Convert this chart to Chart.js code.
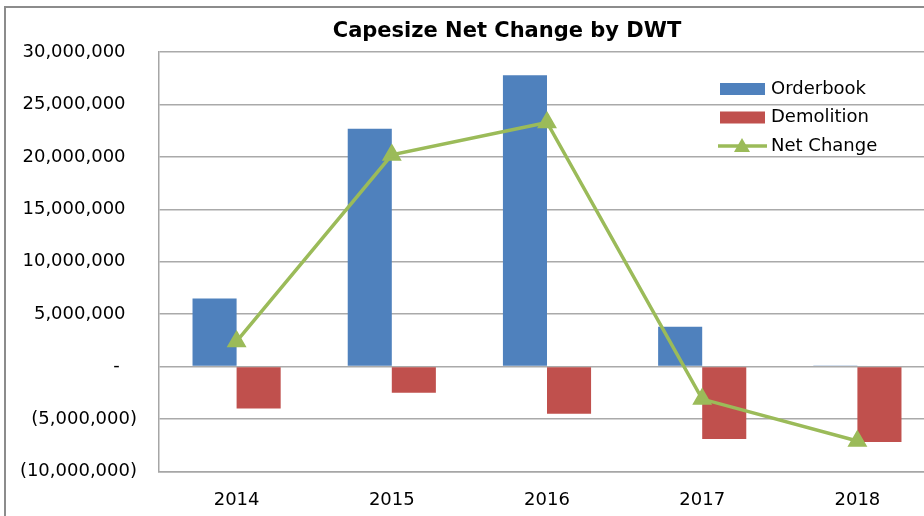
<!DOCTYPE html>
<html>
<head>
<meta charset="utf-8">
<script src="https://cdn.jsdelivr.net/npm/chart.js@4.4.1/dist/chart.umd.min.js"></script>
<style>
    html, body { margin: 0; padding: 0; background: #fff; overflow: hidden; }
    #wrap { position: absolute; left: 0; top: 0; width: 1014px; height: 534px; }
    #frame { position: absolute; left: 4px; top: 6px; width: 2000px; height: 2000px;
             border-left: 2px solid #8c8c8c; border-top: 2px solid #8c8c8c; pointer-events: none; }
</style>
</head>
<body>
<div id="wrap"><canvas id="chart" width="1014" height="534"></canvas></div>
<div id="frame"></div>
<script>
// Data for the chart
const years = ["2014", "2015", "2016", "2017", "2018"];
const orderbook = [6500000, 22700000, 27800000, 3800000, 100000];
const demolition = [-4000000, -2500000, -4500000, -6900000, -7200000];
const netChange = [2400000, 20200000, 23300000, -3100000, -7100000];

const FONT = "'DejaVu Sans', sans-serif";

// Excel accounting style labels
function accounting(v) {
    if (v === 0) return "-   ";
    const s = Math.abs(v).toLocaleString("en-US");
    return v < 0 ? "(" + s + ")" : s + "  ";
}

// Legend drawn inside the plot area, like the Excel original
const insideLegend = {
    id: "insideLegend",
    afterDraw(chart) {
        const ctx = chart.ctx;
        const x = 720, y0 = 89, step = 28.5;
        ctx.save();
        ctx.font = "18px " + FONT;
        ctx.textBaseline = "middle";
        ctx.textAlign = "left";
        chart.data.datasets.forEach((ds, i) => {
            const y = y0 + i * step;
            if (ds.type === "line") {
                ctx.strokeStyle = ds.borderColor;
                ctx.lineWidth = 3.5;
                ctx.beginPath();
                ctx.moveTo(x - 2, y);
                ctx.lineTo(x + 47, y);
                ctx.stroke();
                ctx.fillStyle = ds.borderColor;
                ctx.beginPath();
                ctx.moveTo(x + 22, y - 8);
                ctx.lineTo(x + 30, y + 6);
                ctx.lineTo(x + 14, y + 6);
                ctx.closePath();
                ctx.fill();
            } else {
                ctx.fillStyle = ds.backgroundColor;
                ctx.fillRect(x, y - 6, 45, 12);
            }
            ctx.fillStyle = "#000";
            ctx.fillText(ds.label, x + 51, y);
        });
        ctx.restore();
    }
};

const ctx = document.getElementById("chart").getContext("2d");
new Chart(ctx, {
    data: {
        labels: years,
        datasets: [
            {
                type: "bar",
                label: "Orderbook",
                data: orderbook,
                backgroundColor: "#4F81BD",
                categoryPercentage: 0.568,
                barPercentage: 1,
                order: 1
            },
            {
                type: "bar",
                label: "Demolition",
                data: demolition,
                backgroundColor: "#C0504D",
                categoryPercentage: 0.568,
                barPercentage: 1,
                order: 1
            },
            {
                type: "line",
                label: "Net Change",
                data: netChange,
                borderColor: "#9BBB59",
                backgroundColor: "#9BBB59",
                borderWidth: 3.5,
                pointStyle: "triangle",
                pointRadius: 8,
                pointBackgroundColor: "#9BBB59",
                pointBorderColor: "#9BBB59",
                tension: 0,
                order: 0
            }
        ]
    },
    options: {
        responsive: false,
        animation: false,
        layout: {
            padding: { left: 0, right: 0, top: 0, bottom: 5 }
        },
        plugins: {
            legend: { display: false },
            tooltip: { enabled: false },
            title: {
                display: true,
                text: "Capesize Net Change by DWT",
                color: "#000",
                font: { family: FONT, size: 21, weight: "bold" },
                padding: { top: 19, bottom: 8 }
            }
        },
        scales: {
            x: {
                grid: { display: false, drawTicks: false },
                border: { color: "#a6a6a6", width: 1.5 },
                ticks: {
                    color: "#000",
                    font: { family: FONT, size: 18 },
                    padding: 18
                }
            },
            y: {
                min: -10000000,
                max: 30000000,
                afterFit(scale) { scale.width = 159; },
                grid: { color: "#aaaaaa", lineWidth: 1.5, drawTicks: false },
                border: { color: "#a6a6a6", width: 1.5 },
                ticks: {
                    stepSize: 5000000,
                    color: "#000",
                    font: { family: FONT, size: 18 },
                    padding: 22,
                    callback: (v) => accounting(v)
                }
            },
            // empty right-hand space: the original plot runs past the crop
            spacer: {
                type: "linear",
                position: "right",
                afterFit(scale) { scale.width = 79; },
                grid: { display: false },
                border: { display: false },
                ticks: { display: false }
            }
        }
    },
    plugins: [insideLegend]
});
</script>
</body>
</html>
